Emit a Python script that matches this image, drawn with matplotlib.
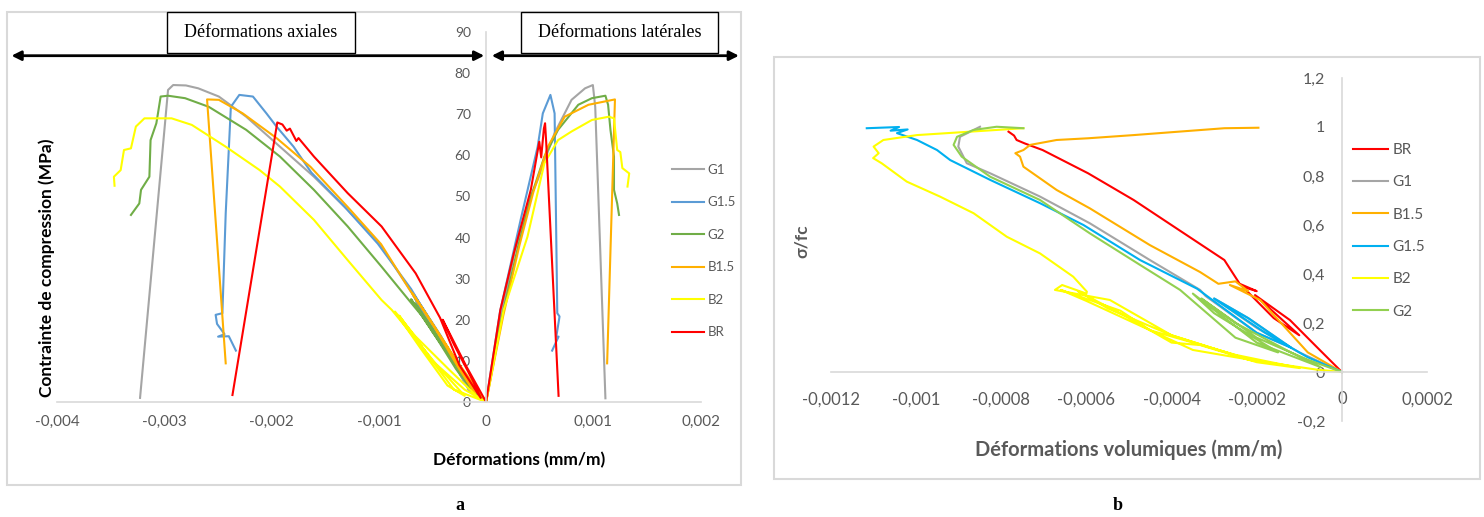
import numpy as np
import matplotlib
matplotlib.use('Agg')
import matplotlib.pyplot as plt
from matplotlib.patches import Rectangle, FancyArrowPatch

plt.rcParams['font.family'] = ['Lato', 'DejaVu Sans']

# ---- panel a : stress vs strain (strain in 1e-3, stress in MPa) ----
# axial (negative) branches
g1_ax_x = [0, -0.30, -0.55, -0.66, -0.45, -0.20, -0.10, -0.35, -0.60, -0.68, -0.50, -0.25, -0.15, -0.40, -0.62,
           -0.690, -0.975, -1.291, -1.606, -1.923, -2.238, -2.493, -2.685, -2.800, -2.919, -2.967, -3.228]
g1_ax_y = [0, 10, 20, 25.5, 17, 6, 1.5, 12, 22, 26, 18, 7, 2.5, 14, 23.5,
           26.4, 37.8, 46.7, 54.8, 62.1, 69.4, 74.3, 76.3, 77.0, 77.1, 75.9, 1.0]
g15_ax_x = [0, -0.32, -0.58, -0.67, -0.42, -0.18, -0.12, -0.38, -0.62, -0.70, -1.01, -1.32, -1.63, -1.796,
            -1.955, -2.049, -2.175, -2.302, -2.381, -2.429, -2.460, -2.523, -2.51, -2.44, -2.50, -2.40, -2.334]
g15_ax_y = [0, 11, 21, 26, 16, 5, 2, 14, 24, 27.5, 38.5, 47.5, 55.8, 62.1,
            67.0, 70.2, 74.3, 74.7, 71.8, 45.9, 21.6, 21.2, 19.0, 16.5, 15.9, 16.0, 12.5]
g2_ax_x = [0, -0.25, -0.50, -0.66, -0.45, -0.22, -0.08, -0.30, -0.55, -0.70, -0.52, -0.28, -0.12, -0.35, -0.60,
           -0.721, -0.975, -1.291, -1.606, -1.923, -2.238, -2.587, -2.808, -2.967, -3.036, -3.061, -3.076,
           -3.130, -3.141, -3.219, -3.235, -3.313]
g2_ax_y = [0, 8, 17, 24, 16, 7, 1.5, 10, 19, 25, 18, 8, 2.5, 12, 21,
           24.8, 32.9, 42.7, 51.6, 59.7, 66.2, 71.8, 73.9, 74.5, 74.3, 70.2, 67.8,
           63.7, 54.8, 51.6, 48.3, 45.5]
b15_ax_x = [0, -0.30, -0.55, -0.69, -0.50, -0.25, -0.10, -0.35, -0.60, -0.71, -0.98, -1.29, -1.638,
            -1.955, -2.270, -2.493, -2.603, -2.429]
b15_ax_y = [0, 11, 21, 26.5, 19, 8, 2, 13, 23, 27.2, 38.4, 47.4, 57.2,
            64.2, 70.2, 73.5, 73.6, 9.4]
b2_ax_x = [0, -0.20, -0.50, -0.81, -0.56, -0.30, -0.05, -0.35, -0.66, -0.85, -0.61, -0.36, -0.20, -0.46, -0.71,
           -0.880, -0.975, -1.291, -1.606, -1.923, -2.112, -2.429, -2.745, -2.934, -3.061, -3.187, -3.267,
           -3.313, -3.378, -3.409, -3.472, -3.466]
b2_ax_y = [0, 3, 10, 21, 12, 3, 0.5, 8, 16, 22, 13, 4, 1.5, 9, 17,
           22.4, 24.8, 34.5, 44.3, 52.4, 56.4, 62.1, 67.4, 69.0, 69.0, 69.0, 67.0,
           61.7, 61.3, 56.4, 54.8, 52.6]
br_ax_x = [0, -0.183, -0.405, -0.30, -0.12, -0.05, -0.25, -0.43, -0.657, -0.975, -1.291, -1.606, -1.75,
           -1.77, -1.83, -1.86, -1.90, -1.948, -2.366]
br_ax_y = [0, 8.6, 20.0, 14, 5, 1, 9, 20.5, 31.3, 42.7, 50.8, 59.7, 64.2,
           63.5, 66.5, 66.0, 67.5, 68.0, 1.7]

# lateral (positive) branches
g1_lat_x = [0, 0.14, 0.27, 0.40, 0.481, 0.639, 0.797, 0.923, 0.996, 1.018, 1.113]
g1_lat_y = [0, 21, 37, 49, 54.0, 65.4, 73.5, 76.3, 77.1, 71.8, 0.9]
g15_lat_x = [0, 0.13, 0.322, 0.481, 0.529, 0.600, 0.639, 0.664, 0.685, 0.655, 0.676, 0.616]
g15_lat_y = [0, 22, 44.3, 62.1, 70.2, 74.7, 70.2, 21.6, 20.8, 15.9, 15.9, 12.5]
g2_lat_x = [0, 0.15, 0.30, 0.42, 0.544, 0.671, 0.860, 0.987, 1.113, 1.138, 1.160, 1.193, 1.193, 1.223, 1.240]
g2_lat_y = [0, 21, 38, 50, 59.7, 66.2, 72.3, 73.9, 74.5, 72.3, 66.2, 59.7, 51.6, 48.3, 45.5]
b15_lat_x = [0, 0.16, 0.31, 0.44, 0.576, 0.733, 0.955, 1.202, 1.129]
b15_lat_y = [0, 21, 38, 51, 62.1, 69.4, 72.3, 73.6, 9.4]
b2_lat_x = [0, 0.164, 0.386, 0.544, 0.671, 0.797, 0.987, 1.145, 1.193, 1.223, 1.252, 1.271, 1.335, 1.319]
b2_lat_y = [0, 22.4, 40.2, 58.1, 63.7, 65.8, 68.6, 69.4, 69.0, 61.3, 60.8, 56.9, 55.6, 52.4]
br_lat_x = [0, 0.133, 0.259, 0.417, 0.496, 0.514, 0.539, 0.550, 0.561, 0.676]
br_lat_y = [0, 22.4, 36.2, 51.6, 63.3, 59.5, 66.5, 67.8, 63.0, 1.5]

left_names = ['G1', 'G1.5', 'G2', 'B1.5', 'B2', 'BR']
left_colors = ['#A5A5A5', '#5B9BD5', '#70AD47', '#FFB000', '#FFFF00', '#FF0000']
left_ax_x = [g1_ax_x, g15_ax_x, g2_ax_x, b15_ax_x, b2_ax_x, br_ax_x]
left_ax_y = [g1_ax_y, g15_ax_y, g2_ax_y, b15_ax_y, b2_ax_y, br_ax_y]
left_lat_x = [g1_lat_x, g15_lat_x, g2_lat_x, b15_lat_x, b2_lat_x, br_lat_x]
left_lat_y = [g1_lat_y, g15_lat_y, g2_lat_y, b15_lat_y, b2_lat_y, br_lat_y]

left_xticks = [-0.004, -0.003, -0.002, -0.001, 0, 0.001, 0.002]
left_xticklabels = ['-0,004', '-0,003', '-0,002', '-0,001', '0', '0,001', '0,002']
left_yticks = [0, 10, 20, 30, 40, 50, 60, 70, 80, 90]

# ---- panel b : sigma/fc vs volumetric strain (strain in 1e-3) ----
br_vol_x = [0, -0.052, -0.122, -0.204, -0.17, -0.10, -0.16, -0.233, -0.20, -0.24, -0.276, -0.383, -0.489,
            -0.596, -0.703, -0.745, -0.764, -0.770, -0.783]
br_vol_y = [0, 0.090, 0.212, 0.314, 0.26, 0.15, 0.22, 0.348, 0.33, 0.36, 0.457, 0.580, 0.702,
            0.811, 0.906, 0.933, 0.947, 0.965, 0.981]
g1_vol_x = [0, -0.10, -0.20, -0.30, -0.22, -0.12, -0.20, -0.32, -0.333, -0.451, -0.592, -0.709, -0.826,
            -0.881, -0.901, -0.897, -0.850]
g1_vol_y = [0, 0.08, 0.18, 0.30, 0.22, 0.10, 0.16, 0.31, 0.335, 0.457, 0.607, 0.716, 0.811,
            0.852, 0.920, 0.960, 1.001]
b15_vol_x = [0, -0.08, -0.192, -0.263, -0.22, -0.25, -0.29, -0.333, -0.451, -0.592, -0.670, -0.748,
             -0.756, -0.767, -0.748, -0.732, -0.670, -0.596, -0.489, -0.383, -0.276, -0.196]
b15_vol_y = [0, 0.08, 0.294, 0.355, 0.33, 0.37, 0.36, 0.408, 0.518, 0.668, 0.743, 0.838,
             0.879, 0.893, 0.906, 0.927, 0.947, 0.954, 0.967, 0.981, 0.995, 0.997]
g15_vol_x = [0, -0.08, -0.18, -0.30, -0.22, -0.12, -0.20, -0.34, -0.474, -0.607, -0.709, -0.826,
             -0.920, -0.951, -0.998, -1.045, -1.02, -1.06, -1.04, -1.116]
g15_vol_y = [0, 0.06, 0.16, 0.30, 0.22, 0.10, 0.16, 0.34, 0.457, 0.600, 0.689, 0.784,
             0.865, 0.906, 0.947, 0.975, 0.99, 0.985, 1.0, 0.995]
b2_vol_x = [0, -0.06, -0.216, -0.40, -0.55, -0.62, -0.50, -0.40, -0.333, -0.20, -0.099, -0.25, -0.45,
            -0.60, -0.66, -0.52, -0.451, -0.35, -0.216, -0.40, -0.545, -0.674, -0.657, -0.60, -0.599,
            -0.631, -0.709, -0.787, -0.865, -0.944, -1.022, -1.081, -1.101, -1.088, -1.100, -1.077,
            -0.998, -0.748]
b2_vol_y = [0, 0.01, 0.049, 0.15, 0.26, 0.33, 0.22, 0.12, 0.11, 0.04, 0.016, 0.07, 0.17,
            0.29, 0.335, 0.25, 0.171, 0.09, 0.05, 0.15, 0.294, 0.335, 0.355, 0.32, 0.328,
            0.389, 0.484, 0.552, 0.648, 0.716, 0.777, 0.852, 0.873, 0.893, 0.920, 0.947,
            0.967, 0.995]
g2_vol_x = [0, -0.08, -0.20, -0.33, -0.25, -0.12, -0.05, -0.20, -0.35, -0.30, -0.15, -0.25, -0.380,
            -0.474, -0.592, -0.709, -0.826, -0.893, -0.912, -0.904, -0.865, -0.811, -0.748]
g2_vol_y = [0, 0.05, 0.14, 0.30, 0.20, 0.08, 0.02, 0.12, 0.32, 0.24, 0.08, 0.14, 0.335,
            0.437, 0.566, 0.702, 0.797, 0.879, 0.927, 0.960, 0.988, 1.001, 0.995]

right_names = ['BR', 'G1', 'B1.5', 'G1.5', 'B2', 'G2']
right_colors = ['#FF0000', '#A5A5A5', '#FFB000', '#00B0F0', '#FFFF00', '#92D050']
right_x = [br_vol_x, g1_vol_x, b15_vol_x, g15_vol_x, b2_vol_x, g2_vol_x]
right_y = [br_vol_y, g1_vol_y, b15_vol_y, g15_vol_y, b2_vol_y, g2_vol_y]

right_xticks = [-0.0012, -0.001, -0.0008, -0.0006, -0.0004, -0.0002, 0, 0.0002]
right_xticklabels = ['-0,0012', '-0,001', '-0,0008', '-0,0006', '-0,0004', '-0,0002', '0', '0,0002']
right_yticks = [-0.2, 0, 0.2, 0.4, 0.6, 0.8, 1.0, 1.2]
right_yticklabels = ['-0,2', '0', '0,2', '0,4', '0,6', '0,8', '1', '1,2']

W, H = 1484, 517
AXIS_GREY = '#D9D9D9'
TEXT_GREY = '#595959'


def px_rect(x0, y0, x1, y1):
    return [x0 / W, 1 - y1 / H, (x1 - x0) / W, (y1 - y0) / H]


def style_axes(ax):
    for s in ['top', 'right']:
        ax.spines[s].set_visible(False)
    for s in ['left', 'bottom']:
        ax.spines[s].set_position(('data', 0))
        ax.spines[s].set_color(AXIS_GREY)
        ax.spines[s].set_linewidth(1.2)
    ax.tick_params(length=0, colors=TEXT_GREY)
    ax.patch.set_alpha(0)


fig = plt.figure(figsize=(W / 100, H / 100), dpi=100)

# chart frames
fig.add_artist(Rectangle((7 / W, 1 - 485 / H), 734 / W, 473.3 / H, transform=fig.transFigure,
                         fill=False, ec=AXIS_GREY, lw=1.5))
fig.add_artist(Rectangle((774.5 / W, 1 - 479 / H), 705.5 / W, 422 / H, transform=fig.transFigure,
                         fill=False, ec=AXIS_GREY, lw=1.5))

# ---- panel a ----
ax1 = fig.add_axes(px_rect(57.3, 32, 700.5, 402))
for name, col, ax_x, ax_y, lat_x, lat_y in zip(left_names, left_colors, left_ax_x, left_ax_y,
                                                left_lat_x, left_lat_y):
    ax1.plot(np.array(ax_x) * 1e-3, ax_y, color=col, lw=1.5, label=name)
    ax1.plot(np.array(lat_x) * 1e-3, lat_y, color=col, lw=1.5, label='_nolegend_')
ax1.set_xlim(-0.004, 0.002)
ax1.set_ylim(0, 90)
style_axes(ax1)
ax1.set_xticks(left_xticks)
ax1.set_xticklabels(left_xticklabels, fontsize=11)
ax1.set_yticks(left_yticks)
ax1.set_yticklabels([str(v) for v in left_yticks], fontsize=10)
ax1.tick_params(axis='x', pad=9)
ax1.tick_params(axis='y', pad=11)
ax1.set_ylabel('Contrainte de compression (MPa)', fontsize=12.5, fontweight='bold', color='black')
ax1.yaxis.set_label_coords(-0.004, 0.362)
ax1.set_xlabel('Déformations (mm/m)', fontsize=12.5, fontweight='bold', color='black')
ax1.xaxis.set_label_coords(0.718, -0.135)
ax1.legend(loc='upper left', bbox_to_anchor=(672 / W, 1 - 164 / H), bbox_transform=fig.transFigure,
           frameon=False, fontsize=9.5, handlelength=2.4, labelspacing=1.55, handletextpad=0.3,
           borderpad=0, borderaxespad=0, labelcolor=TEXT_GREY)

# arrows and boxes of panel a
arrow_y = 1 - 55.7 / H
fig.add_artist(FancyArrowPatch((8.7 / W, arrow_y), (487 / W, arrow_y), transform=fig.transFigure,
                               arrowstyle='<|-|>', mutation_scale=14, lw=2, color='black'))
fig.add_artist(FancyArrowPatch((489 / W, arrow_y), (741.7 / W, arrow_y), transform=fig.transFigure,
                               arrowstyle='<|-|>', mutation_scale=14, lw=2, color='black'))
for (x0, x1), txt in [((166.5, 355), 'Déformations axiales'), ((521, 717.5), 'Déformations latérales')]:
    fig.add_artist(Rectangle((x0 / W, 1 - 53.3 / H), (x1 - x0) / W, 41.6 / H, transform=fig.transFigure,
                             fc='white', ec='black', lw=1))
    fig.text((x0 + x1) / 2 / W, 1 - 32.5 / H, txt, ha='center', va='center', fontsize=13,
             family='Liberation Serif')

# ---- panel b ----
ax2 = fig.add_axes(px_rect(831, 78, 1427, 421))
for name, col, xs, ys in zip(right_names, right_colors, right_x, right_y):
    ax2.plot(np.array(xs) * 1e-3, ys, color=col, lw=1.5, label=name)
ax2.set_xlim(-0.0012, 0.0002)
ax2.set_ylim(-0.2, 1.2)
style_axes(ax2)
ax2.set_xticks(right_xticks)
ax2.set_xticklabels(right_xticklabels, fontsize=12)
ax2.set_yticks(right_yticks)
ax2.set_yticklabels(right_yticklabels, fontsize=11.5)
ax2.tick_params(axis='x', pad=14)
ax2.tick_params(axis='y', pad=12)
ax2.set_ylabel('σ/fc', fontsize=12.5, fontweight='bold', color=TEXT_GREY)
ax2.yaxis.set_label_coords(-0.035, 0.525)
ax2.set_xlabel('Déformations volumiques (mm/m)', fontsize=14.5, fontweight='bold', color=TEXT_GREY)
ax2.xaxis.set_label_coords(0.5, -0.055)
ax2.legend(loc='upper left', bbox_to_anchor=(1353 / W, 1 - 143 / H), bbox_transform=fig.transFigure,
           frameon=False, fontsize=11, handlelength=2.3, labelspacing=1.2, handletextpad=0.3,
           borderpad=0, borderaxespad=0, labelcolor=TEXT_GREY)

fig.text(459.5 / W, 1 - 506 / H, 'a', ha='center', va='center', fontsize=13, fontweight='bold',
         family='Liberation Serif')
fig.text(1118 / W, 1 - 506 / H, 'b', ha='center', va='center', fontsize=13, fontweight='bold',
         family='Liberation Serif')

fig.savefig('out.png', dpi=100)
